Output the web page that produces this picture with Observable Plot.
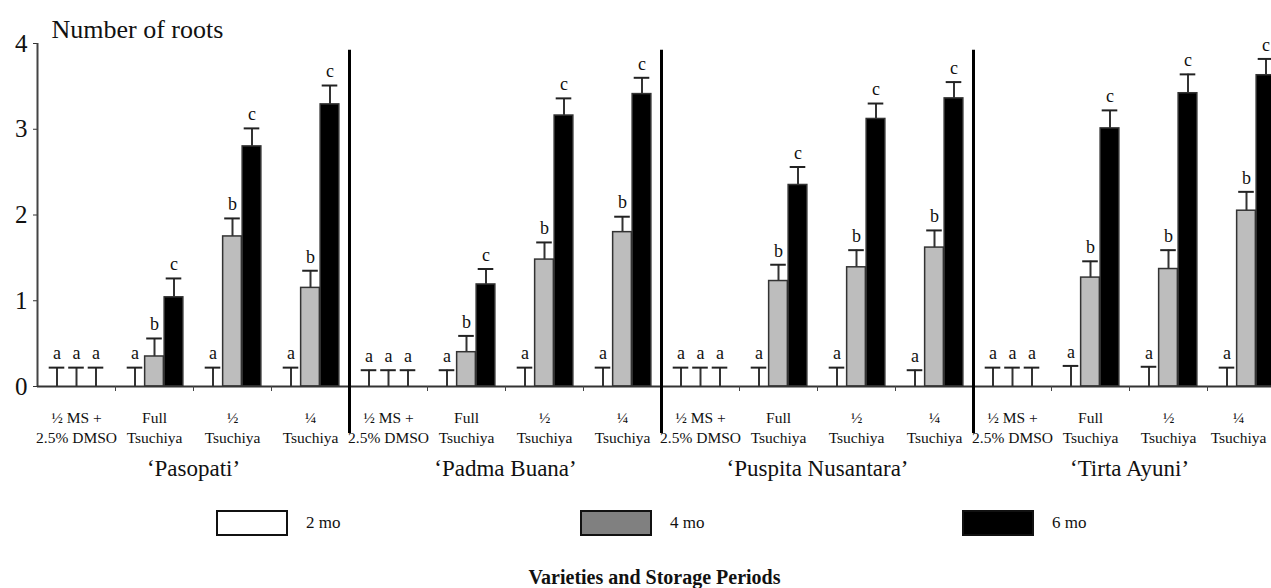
<!DOCTYPE html>
<html>
<head>
<meta charset="utf-8">
<script src="https://cdn.jsdelivr.net/npm/d3@7"></script>
<script src="https://cdn.jsdelivr.net/npm/@observablehq/plot@0.6"></script>
<style>
  body { margin: 0; background: #fff; font-family: "Liberation Serif", "Times New Roman", serif; }
  #wrap { position: relative; width: 1271px; height: 588px; overflow: hidden; }
  #chart svg { display: block; }
  .item { position: absolute; top: 510px; display: flex; align-items: center; font-size: 17px; color: #111; font-family: "Liberation Serif", serif; }
  .sw { width: 72px; height: 26px; box-sizing: border-box; border: 2px solid #111; margin-right: 18px; }
  #title { position: absolute; top: 566px; left: 0; width: 1271px; padding-left: 38px; box-sizing: border-box; text-align: center; font-weight: bold; font-size: 20px; color: #111; font-family: "Liberation Serif", serif; }
</style>
</head>
<body>
<div id="wrap">
  <div id="chart"></div>
  <div id="legend"></div>
  <div id="title">Varieties and Storage Periods</div>
</div>
<script>
// ---- data ----
const varieties = ["‘Pasopati’", "‘Padma Buana’", "‘Puspita Nusantara’", "‘Tirta Ayuni’"];
const treatments = ["½ MS +\n2.5% DMSO", "Full\nTsuchiya", "½\nTsuchiya", "¼\nTsuchiya"];
const periods = ["2 mo", "4 mo", "6 mo"];
// order within each variety: treatment-major, period-minor (2, 4, 6 mo)
const meanPasopati = [0, 0, 0,   0, 0.35, 1.04,   0, 1.75, 2.80,   0, 1.15, 3.29];
const sePasopati   = [0.22, 0.22, 0.22,   0.22, 0.21, 0.22,   0.22, 0.21, 0.21,   0.22, 0.20, 0.22];
const meanPadma    = [0, 0, 0,   0, 0.40, 1.19,   0, 1.48, 3.16,   0, 1.80, 3.41];
const sePadma      = [0.19, 0.19, 0.19,   0.19, 0.19, 0.18,   0.22, 0.20, 0.20,   0.22, 0.18, 0.19];
const meanPuspita  = [0, 0, 0,   0, 1.23, 2.35,   0, 1.39, 3.12,   0, 1.62, 3.36];
const sePuspita    = [0.22, 0.22, 0.22,   0.22, 0.19, 0.21,   0.22, 0.20, 0.18,   0.19, 0.20, 0.19];
const meanTirta    = [0, 0, 0,   0, 1.27, 3.01,   0, 1.37, 3.42,   0, 2.05, 3.63];
const seTirta      = [0.22, 0.22, 0.22,   0.24, 0.19, 0.21,   0.23, 0.22, 0.22,   0.22, 0.22, 0.19];
const letters      = ["a", "a", "a",   "a", "b", "c",   "a", "b", "c",   "a", "b", "c"];
const yTicks = [0, 1, 2, 3, 4];
const yLabel = "Number of roots";

const means = [meanPasopati, meanPadma, meanPuspita, meanTirta];
const ses = [sePasopati, sePadma, sePuspita, seTirta];

// ---- build table ----
const rows = [];
varieties.forEach((v, vi) => {
  treatments.forEach((t, ti) => {
    periods.forEach((p, pi) => {
      const k = ti * 3 + pi;
      const m = means[vi][k], s = ses[vi][k];
      rows.push({variety: v, treatment: t, period: p, pos: (vi * 4 + ti) * 4 + 1 + pi,
                 mean: m, se: s, top: m + s, letter: letters[k]});
    });
  });
});
const groups = [];
varieties.forEach((v, vi) => treatments.forEach((t, ti) => groups.push({variety: v, treatment: t, g: vi * 4 + ti, x: (vi * 4 + ti) * 4 + 2})));
const innerGroups = groups.slice(0, -1);
const lastGroup = groups.slice(-1);
const boundaries = groups.filter(d => d.g % 4 !== 0).map(d => d.g * 4);
const separators = varieties.slice(1).map((v, i) => (i + 1) * 16);
const varietyCenters = varieties.map((v, i) => ({variety: v, x: i * 16 + 8}));

const serif = '"Liberation Serif", "Times New Roman", serif';
const W = 1271, H = 490;
const labelOpts = {x: "x", y: () => 0, text: "treatment", lineAnchor: "top", dy: 22, fontSize: 15.5, lineHeight: 1.3, fill: "#111", fontFamily: serif};
const chart = Plot.plot({
  width: W, height: H,
  marginTop: 43, marginBottom: 104, marginLeft: 37, marginRight: 0,
  style: {fontFamily: serif, background: "#fff", color: "#111"},
  x: {type: "linear", domain: [0, 64], range: [37, 37 + 64 * 19.5]},
  y: {domain: [0, 4]},
  color: {domain: periods, range: ["#ffffff", "#bdbdbd", "#000000"]},
  marks: [
    // bars
    Plot.rectY(rows.filter(d => d.mean > 0), {
      x1: d => d.pos - 0.48, x2: d => d.pos + 0.48, y1: 0, y2: "mean",
      fill: "period", stroke: "#333", strokeWidth: 1.5
    }),
    // error bars
    Plot.ruleX(rows, {x: "pos", y1: "mean", y2: "top", stroke: "#333", strokeWidth: 2}),
    Plot.ruleY(rows, {y: "top", x1: d => d.pos - 0.4, x2: d => d.pos + 0.4, stroke: "#222", strokeWidth: 2}),
    // significance letters
    Plot.text(rows, {x: "pos", y: "top", text: "letter", dy: -14, fontSize: 18, fill: "#111", fontFamily: serif}),
    // y axis
    Plot.axisY({ticks: yTicks, tickFormat: d3.format("d"), tickSize: 4, tickPadding: 6, fontSize: 25, label: null, stroke: "#333", fontFamily: serif}),
    Plot.ruleX([0], {y1: 0, y2: 4, stroke: "#444", strokeWidth: 2}),
    Plot.text([yLabel], {frameAnchor: "top-left", dx: 14, dy: -6, lineAnchor: "bottom", textAnchor: "start", fontSize: 26, fill: "#111", fontFamily: serif}),
    // x axis baseline, ticks and treatment labels
    Plot.ruleY([0], {stroke: "#333", strokeWidth: 2}),
    Plot.axisX({ticks: boundaries, tickSize: 5, tickFormat: () => "", stroke: "#444", label: null}),
    Plot.text(innerGroups, labelOpts),
    Plot.text(lastGroup, {...labelOpts, dx: -8}),
    // variety separators
    Plot.ruleX(separators, {y1: 3.92, y2: 0, insetBottom: -47, stroke: "#000", strokeWidth: 3}),
    // variety labels
    Plot.text(varietyCenters, {x: "x", y: () => 0, text: "variety", dy: 82, fontSize: 23, fill: "#111", fontFamily: serif})
  ]
});
document.getElementById("chart").appendChild(chart);

// legend
const legendColors = ["#ffffff", "#808080", "#000000"];
const legendLeft = [216, 580, 962];
const leg = document.getElementById("legend");
periods.forEach((p, i) => {
  const it = document.createElement("div");
  it.className = "item";
  it.style.left = legendLeft[i] + "px";
  const sw = document.createElement("div");
  sw.className = "sw";
  sw.style.background = legendColors[i];
  it.appendChild(sw);
  const tx = document.createElement("span");
  tx.textContent = p;
  it.appendChild(tx);
  leg.appendChild(it);
});
</script>
</body>
</html>
